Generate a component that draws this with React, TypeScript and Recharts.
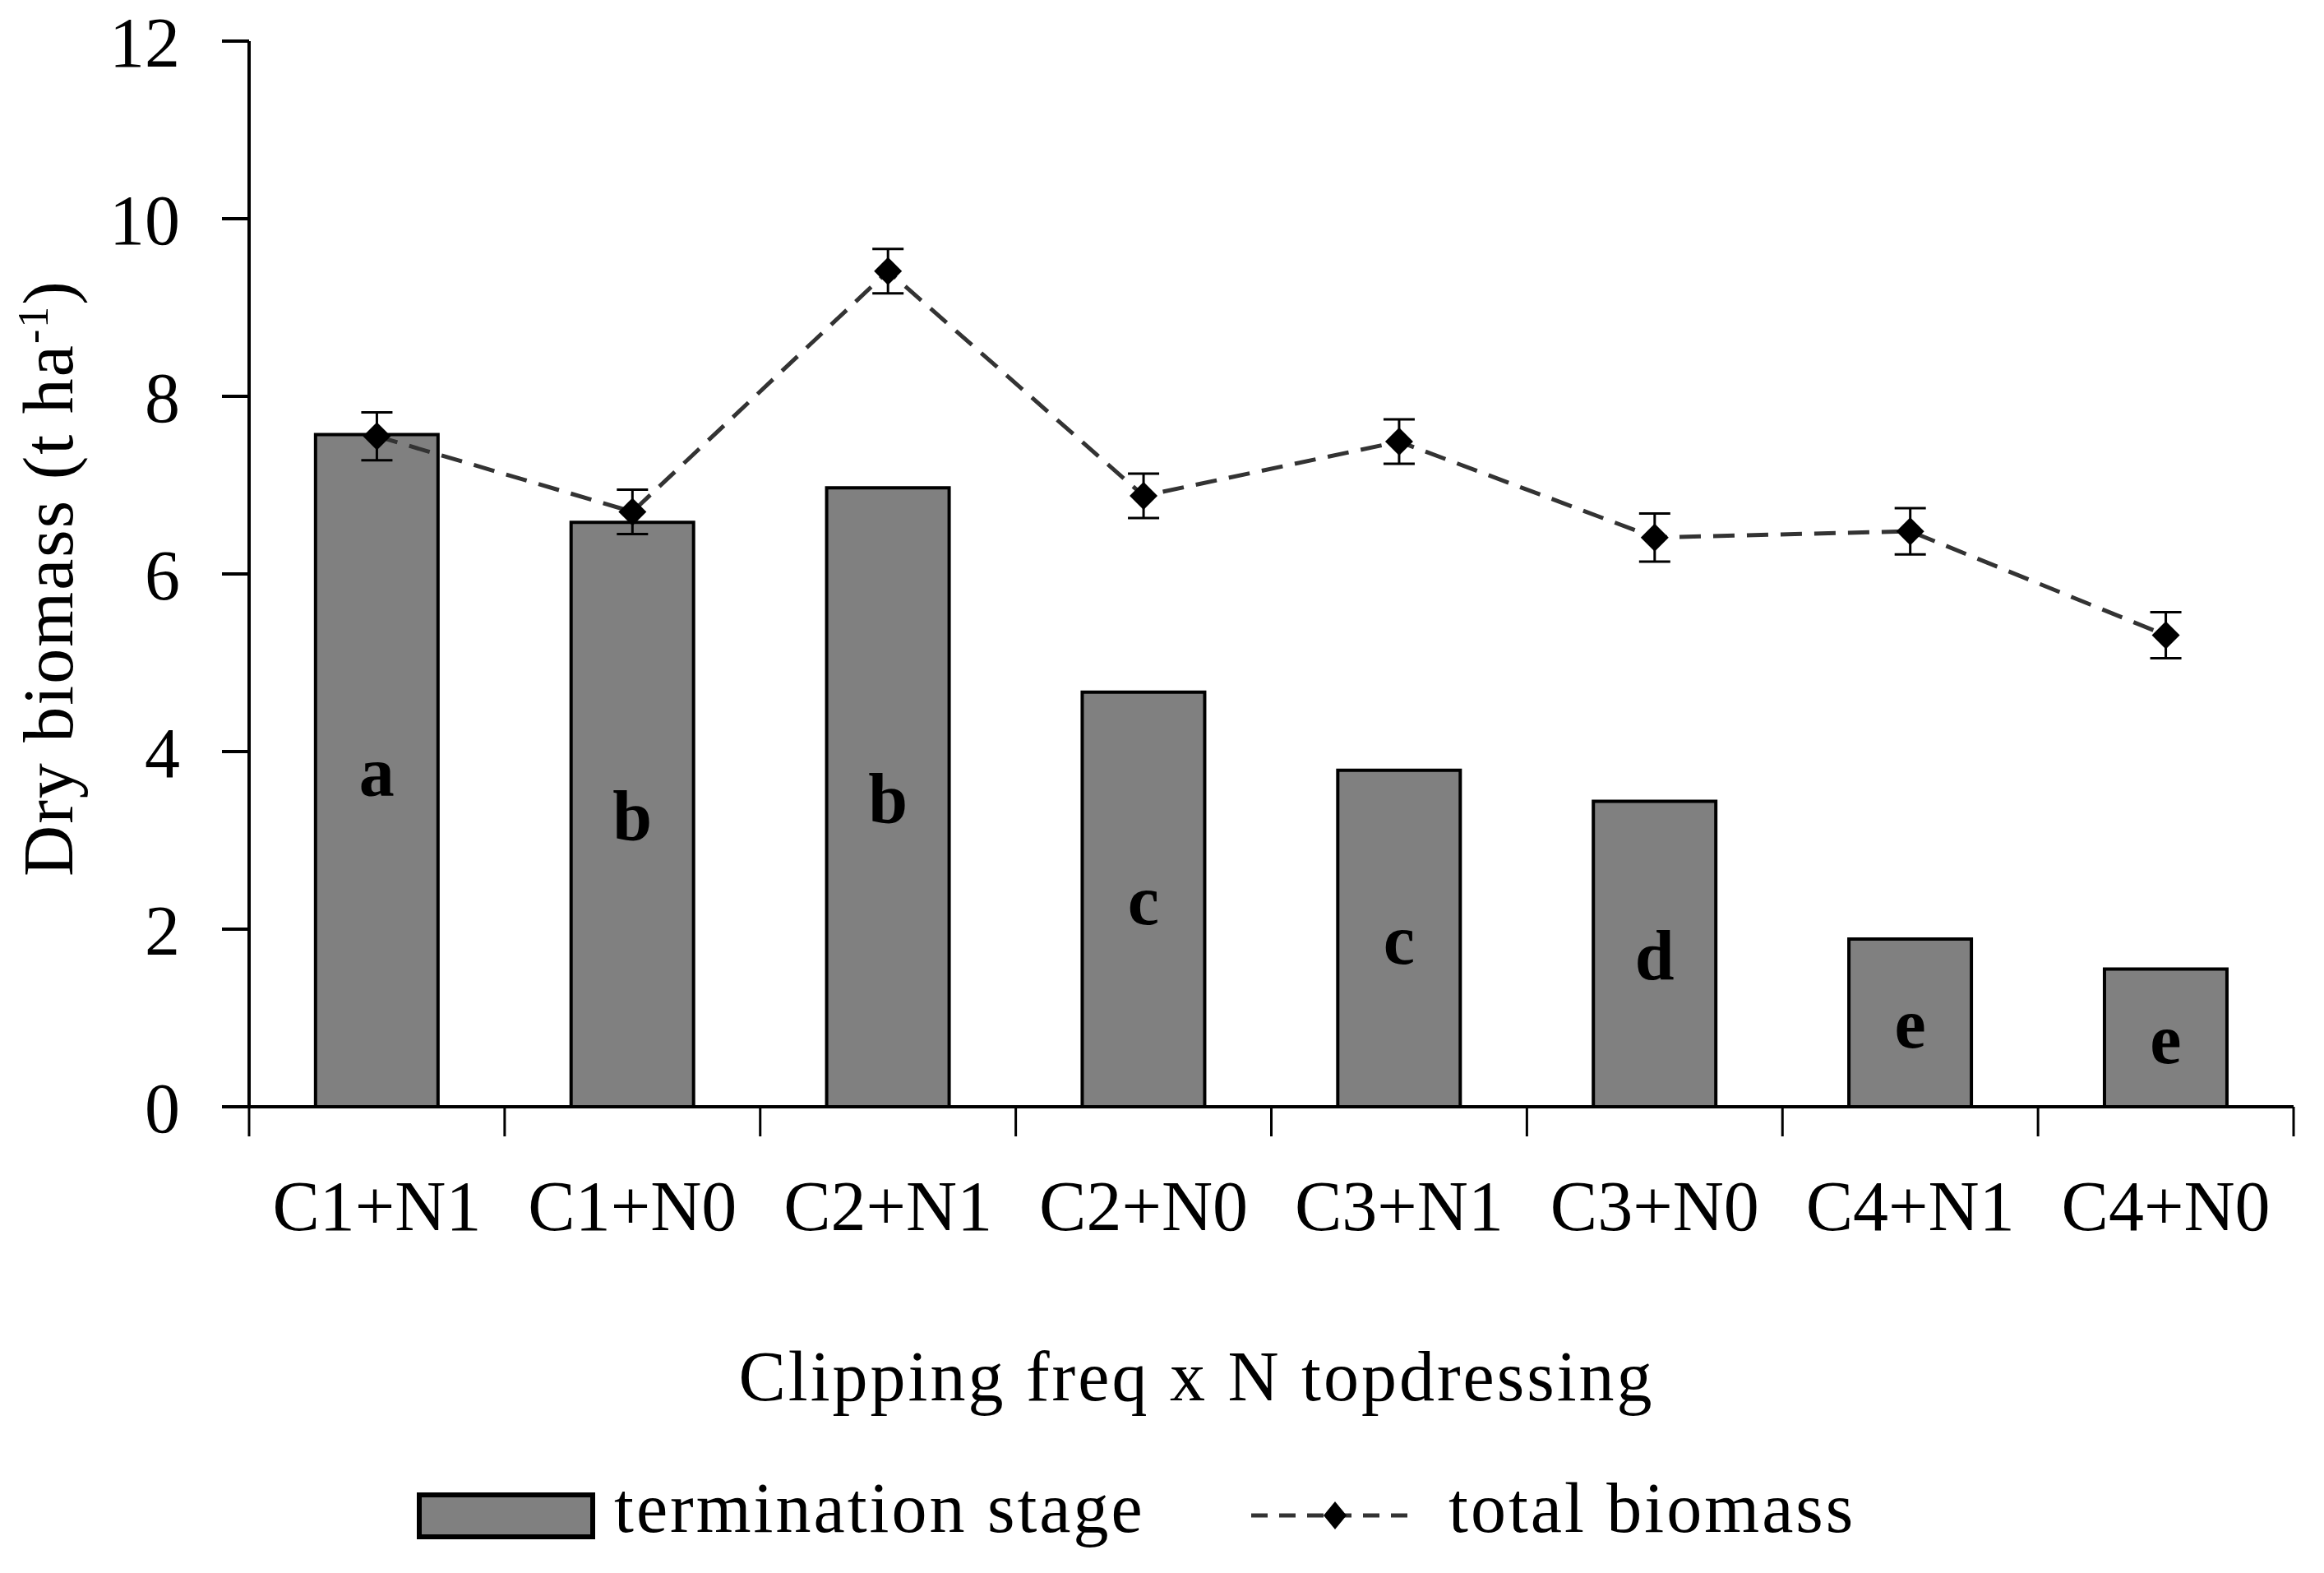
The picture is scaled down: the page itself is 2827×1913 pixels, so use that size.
import { ComposedChart, Bar, Line, XAxis, YAxis, ErrorBar, LabelList, Label, Legend } from 'recharts';

const categories = ['C1+N1', 'C1+N0', 'C2+N1', 'C2+N0', 'C3+N1', 'C3+N0', 'C4+N1', 'C4+N0'];
const terminationStage = [7.57, 6.58, 6.97, 4.67, 3.79, 3.44, 1.89, 1.55];
const totalBiomass = [7.55, 6.7, 9.41, 6.88, 7.49, 6.41, 6.48, 5.31];
const totalErr = [0.27, 0.25, 0.25, 0.25, 0.25, 0.27, 0.26, 0.26];
const letters = ['a', 'b', 'b', 'c', 'c', 'd', 'e', 'e'];
const yTicks = [0, 2, 4, 6, 8, 10, 12];
const bandTicks = [0, 1, 2, 3, 4, 5, 6, 7, 8];

const data = categories.map((name, i) => ({
  name,
  pos: i + 0.5,
  stage: terminationStage[i],
  total: totalBiomass[i],
  err: totalErr[i],
  letter: letters[i],
}));

const FONT = '"Liberation Serif", "Times New Roman", serif';

const Diamond = (p: any) => {
  const { cx, cy, index } = p;
  const s = 17;
  return <path key={index} d={`M${cx},${cy - s}L${cx + s},${cy}L${cx},${cy + s}L${cx - s},${cy}Z`} fill="#000" />;
};

const LegendBox = () => (
  <svg width={1800} height={130} style={{ display: 'block', fontFamily: FONT }}>
    <rect x={3} y={40} width={211} height={51} fill="#808080" stroke="#000" strokeWidth={6} />
    <text x={240} y={85} fontSize={86} letterSpacing={3} fill="#000">termination stage</text>
    <line x1={1015} y1={65} x2={1219} y2={65} stroke="#333" strokeWidth={5} strokeDasharray="20 14" />
    <path d="M1117,48L1131,65L1117,82L1103,65Z" fill="#000" />
    <text x={1255} y={85} fontSize={86} letterSpacing={3} fill="#000">total biomass</text>
  </svg>
);

export default function App() {
  return (
    <div style={{ position: 'absolute', left: 0, top: 0, background: '#fff', fontFamily: FONT }}>
      <ComposedChart
        width={2827}
        height={1913}
        data={data}
        margin={{ top: 50, right: 37, left: 53, bottom: 0 }}
        barCategoryGap="26%"
      >
        <XAxis
          xAxisId="band"
          type="number"
          dataKey="pos"
          domain={[0, 8]}
          allowDataOverflow
          ticks={bandTicks}
          interval={0}
          tickFormatter={() => ''}
          tickSize={36}
          height={26}
          axisLine={{ stroke: '#000', strokeWidth: 4 }}
          tickLine={{ stroke: '#000', strokeWidth: 3 }}
        />
        <XAxis
          xAxisId="cat"
          dataKey="name"
          interval={0}
          axisLine={false}
          tickLine={false}
          tickSize={0}
          tickMargin={63}
          height={411}
          tick={{ fill: '#000', fontSize: 86, fontFamily: FONT }}
        >
          <Label
            content={({ viewBox }: any) => (
              <text
                x={viewBox.x + viewBox.width / 2 - 91}
                y={viewBox.y + 331}
                textAnchor="middle"
                fontSize={86}
                letterSpacing={3}
                fontFamily={FONT}
                fill="#000"
              >
                Clipping freq x N topdressing
              </text>
            )}
          />
        </XAxis>
        <YAxis
          width={250}
          domain={[0, 12]}
          ticks={yTicks}
          interval={0}
          tickSize={33}
          tickMargin={51}
          axisLine={{ stroke: '#000', strokeWidth: 4 }}
          tickLine={{ stroke: '#000', strokeWidth: 4 }}
          tick={{ fill: '#000', fontSize: 86, fontFamily: FONT }}
        >
          <Label
            content={({ viewBox }: any) => {
              const x = viewBox.x + 35;
              const y = viewBox.y + viewBox.height / 2 + 5;
              return (
                <text
                  x={x}
                  y={y}
                  transform={`rotate(-90, ${x}, ${y})`}
                  textAnchor="middle"
                  fontSize={86}
                  letterSpacing={2}
                  fontFamily={FONT}
                  fill="#000"
                >
                  Dry biomass (t ha
                  <tspan dy={-30} fontSize={52}>-1</tspan>
                  <tspan dy={30}>)</tspan>
                </text>
              );
            }}
          />
        </YAxis>
        <Legend verticalAlign="bottom" content={LegendBox} wrapperStyle={{ left: 507, top: 1778, bottom: 'auto', width: 1800, height: 130 }} />
        <Bar xAxisId="cat" dataKey="stage" name="termination stage" fill="#808080" stroke="#000" strokeWidth={4} isAnimationActive={false}>
          <LabelList dataKey="letter" position="center" fill="#000" fontSize={86} fontWeight="bold" fontFamily={FONT} />
        </Bar>
        <Line
          xAxisId="cat"
          dataKey="total"
          name="total biomass"
          stroke="#333"
          strokeWidth={5}
          strokeDasharray="26 15"
          dot={Diamond}
          activeDot={false}
          isAnimationActive={false}
        >
          <ErrorBar dataKey="err" width={19} stroke="#000" strokeWidth={3} direction="y" />
        </Line>
      </ComposedChart>
    </div>
  );
}
